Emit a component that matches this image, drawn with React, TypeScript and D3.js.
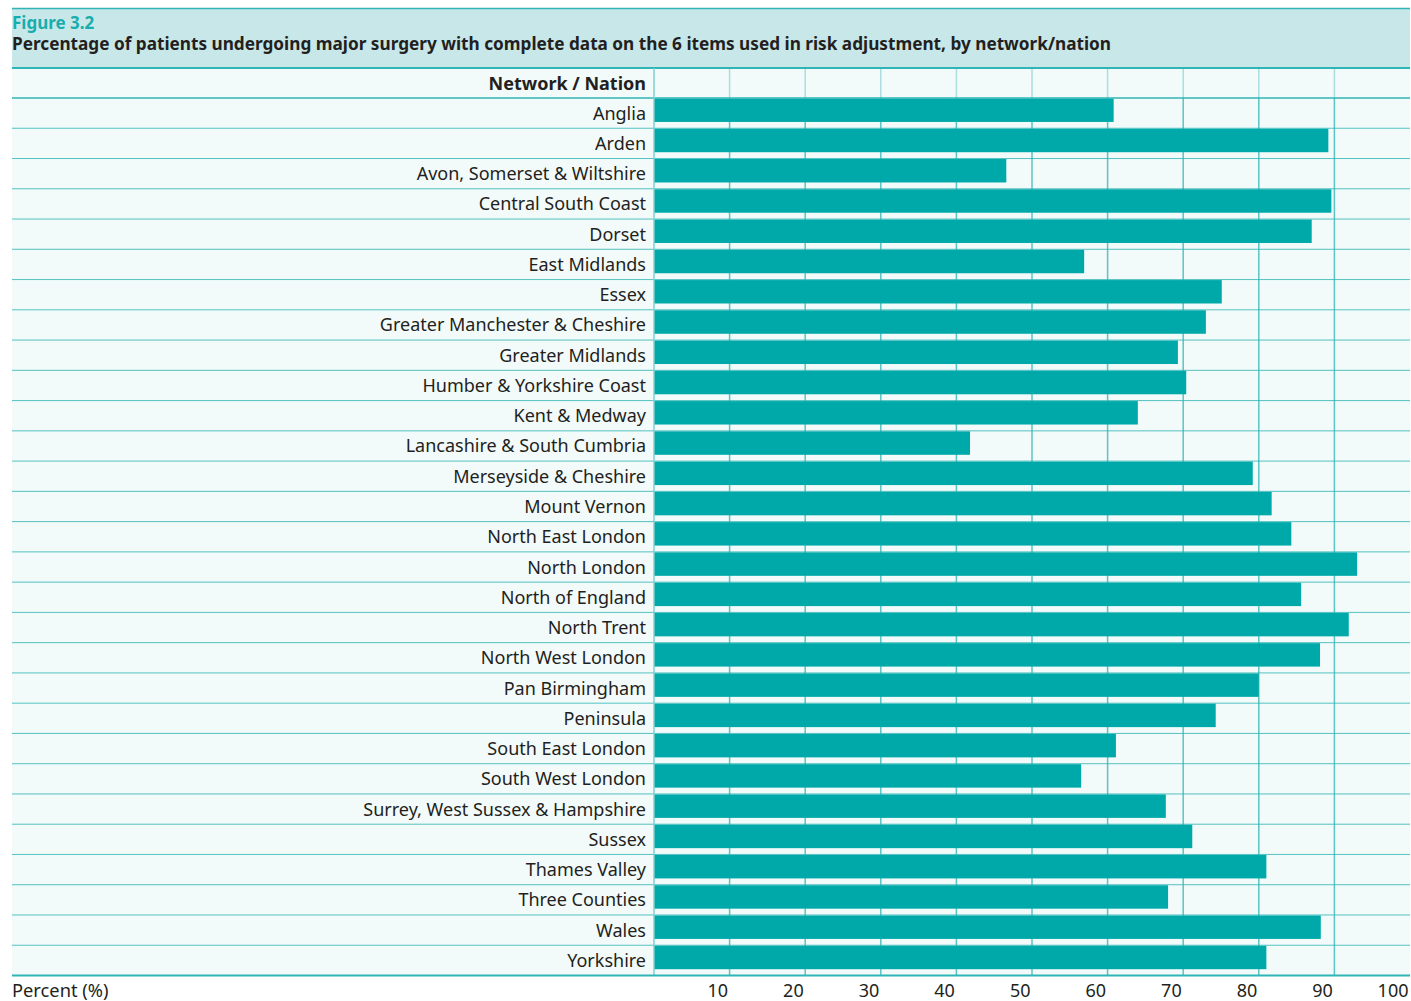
import { scaleLinear, scaleBand } from 'd3';

const networks = [
  'Anglia',
  'Arden',
  'Avon, Somerset & Wiltshire',
  'Central South Coast',
  'Dorset',
  'East Midlands',
  'Essex',
  'Greater Manchester & Cheshire',
  'Greater Midlands',
  'Humber & Yorkshire Coast',
  'Kent & Medway',
  'Lancashire & South Cumbria',
  'Merseyside & Cheshire',
  'Mount Vernon',
  'North East London',
  'North London',
  'North of England',
  'North Trent',
  'North West London',
  'Pan Birmingham',
  'Peninsula',
  'South East London',
  'South West London',
  'Surrey, West Sussex & Hampshire',
  'Sussex',
  'Thames Valley',
  'Three Counties',
  'Wales',
  'Yorkshire',
];

const completePct = [
  60.8, 89.2, 46.6, 89.6, 87.0, 56.9, 75.1, 73.0, 69.3, 70.4, 64.0, 41.8, 79.2, 81.7, 84.3, 93.0, 85.6, 91.9, 88.1,
  80.0, 74.3, 61.1, 56.5, 67.7, 71.2, 81.0, 68.0, 88.2, 81.0,
];

const xTicks = [10, 20, 30, 40, 50, 60, 70, 80, 90, 100];

const W = 1411;
const H = 1001;
const LEFT = 12;
const RIGHT = 1410;
const PLOT_X = 654;
const HEADER_TOP = 68;
const ROWS_TOP = 98;
const ROWS_BOTTOM = 975.5;

const TEAL = '#00a9a9';
const LINE = '#2fb5b5';
const GRID = '#5cc4c4';
const TEXT = '#231f20';
const FONT = '"Noto Sans", "Open Sans", sans-serif';
const FS = 18;

export default function App() {
  const x = scaleLinear().domain([0, 100]).range([PLOT_X, RIGHT]);
  const y = scaleBand<string>().domain(networks).range([ROWS_TOP, ROWS_BOTTOM]).paddingInner(0).paddingOuter(0);
  const bw = y.bandwidth();
  const barH = bw * 0.775;

  return (
    <svg
      width={W}
      height={H}
      viewBox={`0 0 ${W} ${H}`}
      style={{ position: 'absolute', left: 0, top: 0, fontFamily: FONT }}
    >
      <rect x={0} y={0} width={W} height={H} fill="#ffffff" />
      {/* title band */}
      <rect x={LEFT} y={8} width={RIGHT - LEFT} height={HEADER_TOP - 8} fill="#c8e7e9" />
      <line x1={LEFT} x2={RIGHT} y1={8.5} y2={8.5} stroke={LINE} strokeWidth={1.5} />
      <text x={LEFT} y={29} fill="#1aadad" fontSize={17} fontWeight="bold">
        Figure 3.2
      </text>
      <text x={LEFT} y={50} fill={TEXT} fontSize={17.2} fontWeight="bold">
        Percentage of patients undergoing major surgery with complete data on the 6 items used in risk adjustment, by
        network/nation
      </text>

      {/* table background */}
      <rect x={LEFT} y={HEADER_TOP} width={RIGHT - LEFT} height={ROWS_BOTTOM - HEADER_TOP} fill="#f2fafa" />

      {/* gridlines */}
      {xTicks
        .filter((t) => t < 100)
        .map((t) => (
          <g key={t}>
            <line x1={x(t)} x2={x(t)} y1={HEADER_TOP} y2={ROWS_TOP} stroke="#a8dede" strokeWidth={1.5} />
            <line x1={x(t)} x2={x(t)} y1={ROWS_TOP} y2={ROWS_BOTTOM} stroke={GRID} strokeWidth={1.5} />
          </g>
        ))}

      {/* row separators */}
      {networks.map((n) => (
        <line
          key={`sep-${n}`}
          x1={LEFT}
          x2={RIGHT}
          y1={(y(n) ?? 0) + bw}
          y2={(y(n) ?? 0) + bw}
          stroke={LINE}
          strokeWidth={1}
          opacity={0.8}
        />
      ))}

      {/* bars */}
      {networks.map((n, i) => (
        <rect
          key={`bar-${n}`}
          x={x(0)}
          y={(y(n) ?? 0) + 0.5}
          width={x(completePct[i]) - x(0)}
          height={barH}
          fill={TEAL}
        />
      ))}

      {/* labels */}
      {networks.map((n) => (
        <text
          key={`lab-${n}`}
          x={646}
          y={(y(n) ?? 0) + bw / 2 + 6.5}
          textAnchor="end"
          fill={TEXT}
          fontSize={FS}
        >
          {n}
        </text>
      ))}

      {/* header row */}
      <text x={646} y={90} textAnchor="end" fill={TEXT} fontSize={FS} fontWeight="bold">
        Network / Nation
      </text>
      <line x1={LEFT} x2={RIGHT} y1={HEADER_TOP} y2={HEADER_TOP} stroke={LINE} strokeWidth={2} />
      <line x1={LEFT} x2={RIGHT} y1={ROWS_TOP} y2={ROWS_TOP} stroke={LINE} strokeWidth={1.5} />
      <line x1={PLOT_X} x2={PLOT_X} y1={HEADER_TOP} y2={ROWS_BOTTOM} stroke="#7fd0d0" strokeWidth={1.5} />
      <line x1={LEFT} x2={RIGHT} y1={ROWS_BOTTOM} y2={ROWS_BOTTOM} stroke={LINE} strokeWidth={2} />

      {/* x axis labels */}
      <text x={LEFT} y={997} fill={TEXT} fontSize={18.3}>
        Percent (%)
      </text>
      {xTicks.map((t) => (
        <text key={`tick-${t}`} x={x(t) - 1.5} y={997} textAnchor="end" fill={TEXT} fontSize={FS}>
          {t}
        </text>
      ))}
    </svg>
  );
}
